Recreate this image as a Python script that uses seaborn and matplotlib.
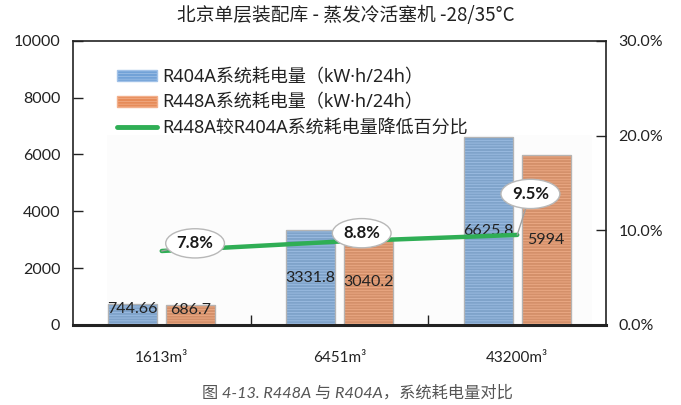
import matplotlib
matplotlib.use("Agg")
import matplotlib.pyplot as plt
from matplotlib.patches import Patch, Rectangle
from matplotlib.lines import Line2D
import seaborn as sns
import pandas as pd

# Data
categories = ["1613m³", "6451m³", "43200m³"]
r404a_kwh = [744.66, 3331.8, 6625.8]
r448a_kwh = [686.7, 3040.2, 5994]
reduction_pct = [7.8, 8.8, 9.5]
series_names = ["R404A系统耗电量（kW·h/24h）", "R448A系统耗电量（kW·h/24h）"]
line_name = "R448A较R404A系统耗电量降低百分比"
left_ticks = [0, 2000, 4000, 6000, 8000, 10000]
right_ticks = [0, 10, 20, 30]

sns.set_theme(style="white")
plt.rcParams["font.family"] = ["Lato", "Noto Sans CJK SC", "DejaVu Sans"]
plt.rcParams["hatch.linewidth"] = 0.5

CJK = ["Noto Sans CJK SC", "DejaVu Sans"]
LEG = ["Noto Sans", "Noto Sans CJK SC", "DejaVu Sans"]
NUM = ["Lato", "DejaVu Sans"]

blue, orange, green = "#72a2d7", "#e68b58", "#2fae55"
blue_stripe, orange_stripe = "#a2c2e8", "#f2b08c"

bars = pd.DataFrame({
    "cat": categories * 2,
    "kwh": r404a_kwh + r448a_kwh,
    "series": [series_names[0]] * 3 + [series_names[1]] * 3,
})
line = pd.DataFrame({"pos": range(len(categories)), "pct": reduction_pct})

fig = plt.figure(figsize=(6.81, 4.05), dpi=100)
ax = fig.add_axes([0.107, 0.198, 0.783, 0.701])

# faint plot-area shading
ax.add_patch(Rectangle((0.064, 0.0), 0.91, 0.67, transform=ax.transAxes,
                       facecolor="#fcfcfc", edgecolor="none", zorder=0))

sns.barplot(data=bars, x="cat", y="kwh", hue="series", order=categories,
            palette=[blue, orange], width=0.652, gap=0.153, ax=ax,
            legend=False, zorder=2)

stripes = [blue_stripe, orange_stripe]
for cont, sc in zip(ax.containers, stripes):
    for p in cont.patches:
        p.set_hatch("------")
        p.set_edgecolor(sc)
        p.set_linewidth(0.8)
        # thin grey outline on top of the striped fill
        ax.add_patch(Rectangle(p.get_xy(), p.get_width(), p.get_height(),
                               facecolor="none", edgecolor="#b4b4b4",
                               linewidth=0.9, zorder=2.5))

# value labels centred in the bars
for cont, vals in zip(ax.containers, [r404a_kwh, r448a_kwh]):
    for p, v in zip(cont.patches, vals):
        y = v / 2 if v > 2000 else v * 0.75
        ax.text(p.get_x() + p.get_width() / 2, y, f"{v:g}",
                ha="center", va="center", fontsize=11.5,
                family=NUM, color="#222222", zorder=5)

ax.set_xlim(-0.5, 2.5)
ax.set_ylim(0, 10000)
ax.set_yticks(left_ticks)
ax.set_yticklabels([str(t) for t in left_ticks], family=NUM, fontsize=11.5,
                   color="#222222")
ax.set_xticks(range(len(categories)))
ax.set_xticklabels(categories, family=NUM, fontsize=11, color="#222222")
ax.set_xticks([0.5, 1.5], minor=True)
ax.tick_params(axis="x", which="major", length=0, pad=19)
ax.tick_params(axis="x", which="minor", direction="in", length=7, width=1,
               color="#222222", bottom=True)
ax.tick_params(axis="y", direction="in", length=7, width=1, color="#222222",
               pad=9, left=True)
ax.set_xlabel("")
ax.set_ylabel("")
for s in ["left", "right", "top"]:
    ax.spines[s].set_color("#222222")
    ax.spines[s].set_linewidth(1.2)
ax.spines["bottom"].set_color("#222222")
ax.spines["bottom"].set_linewidth(2.2)

# reduction percentage line on the secondary axis
ax2 = ax.twinx()
sns.lineplot(data=line, x="pos", y="pct", ax=ax2, color=green, linewidth=3.2,
             legend=False, zorder=4)
ax2.set_ylim(0, 30)
ax2.set_yticks(right_ticks)
ax2.set_yticklabels([f"{t:.1f}%" for t in right_ticks], family=NUM,
                    fontsize=11.5, color="#222222")
ax2.tick_params(axis="y", direction="in", length=7, width=1, color="#222222",
                pad=9, right=True)
ax2.set_xlabel("")
ax2.set_ylabel("")
for s in ax2.spines.values():
    s.set_visible(False)

offsets = [(24, 5.5), (16, 6), (9.5, 29.5)]
for i, (pct, off) in enumerate(zip(reduction_pct, offsets)):
    ax2.annotate(f"{pct:.1f}%", xy=(i, pct), xytext=off,
                 textcoords="offset points", ha="center", va="center",
                 fontsize=12, fontweight="bold", family=NUM, color="#1a1a1a",
                 bbox=dict(boxstyle="ellipse,pad=0.14", fc="white",
                           ec="#b8b8b8", lw=1.0),
                 arrowprops=dict(arrowstyle="-", color="#a0a0a0", lw=1.0,
                                 shrinkA=0, shrinkB=0),
                 zorder=6)

handles = [
    Patch(facecolor=blue, edgecolor=blue_stripe, hatch="------"),
    Patch(facecolor=orange, edgecolor=orange_stripe, hatch="------"),
    Line2D([0], [0], color=green, linewidth=3.5, solid_capstyle="round"),
]
leg = ax.legend(handles, series_names + [line_name], loc="upper left",
                bbox_to_anchor=(0.07, 0.93), frameon=False,
                prop={"family": LEG, "size": 13}, handlelength=2.2,
                handleheight=0.55, labelspacing=0.42, handletextpad=0.3,
                borderaxespad=0)
for t in leg.get_texts():
    t.set_color("#222222")

fig.text(0.508, 0.962, "北京单层装配库 - 蒸发冷活塞机 -28/35°C", ha="center",
         va="center", fontsize=13.5, family=CJK, color="#222222")
fig.text(0.525, 0.030, "图 4-13. R448A 与 R404A，系统耗电量对比", ha="center",
         va="center", fontsize=11.7, style="italic",
         family=["Lato", "Noto Sans CJK SC", "DejaVu Sans"],
         color="#555555")

fig.savefig("out.png", dpi=100)
